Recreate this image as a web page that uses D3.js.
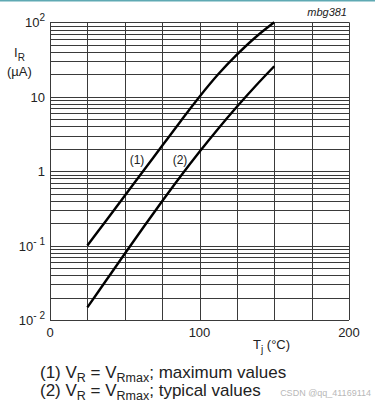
<!DOCTYPE html>
<html>
<head>
<meta charset="utf-8">
<script src="https://cdn.jsdelivr.net/npm/d3@7"></script>
<style>
  body { margin: 0; background: #fff; }
  text { font-family: "Liberation Sans", Arial, sans-serif; fill: #222; }
</style>
</head>
<body>
<script>
// temperature points (deg C) and reverse current (uA)
var temps = [25, 37.5, 50, 62.5, 75, 87.5, 100, 112.5, 125, 137.5, 150];
var maxValues = [0.1, 0.216, 0.468, 1.01, 2.19, 4.73, 10, 20, 36.7, 63, 100];
var typValues = [0.0148, 0.0339, 0.0776, 0.176, 0.394, 0.861, 1.82, 3.72, 7.33, 13.96, 25.7];
var xTicks = [0, 100, 200];
var yTicks = [100, 10, 1, 0.1, 0.01];
var yTickBase = ["10", "10", "1", "10", "10"];
var yTickSup = ["2", "", "", "- 1", "- 2"];

var width = 375, height = 403;
var svg = d3.select("body").append("svg")
    .attr("width", width).attr("height", height);

// thin teal strip on the top edge
svg.append("rect").attr("x", 0).attr("y", 0)
    .attr("width", width).attr("height", 1.5).attr("fill", "#5fa9b3");

var x = d3.scaleLinear().domain([0, 200]).range([50, 349]);
var y = d3.scaleLog().domain([0.01, 100]).range([320, 22.3]);

// log grid: 1..9 in every decade
var hLines = [];
for (var k = -2; k <= 1; k++) {
    for (var m = 1; m <= 9; m++) hLines.push(m * Math.pow(10, k));
}
hLines.push(100);
var vLines = d3.range(0, 201, 25);

var grid = svg.append("g").attr("stroke", "#3a3a3a").attr("stroke-width", 1);
grid.selectAll(".h").data(hLines).enter().append("line")
    .attr("x1", x(0)).attr("x2", x(200))
    .attr("y1", function (d) { return Math.round(y(d)) + 0.5; })
    .attr("y2", function (d) { return Math.round(y(d)) + 0.5; });
grid.selectAll(".v").data(vLines).enter().append("line")
    .attr("y1", y(100)).attr("y2", y(0.01))
    .attr("x1", function (d) { return Math.round(x(d)) + 0.5; })
    .attr("x2", function (d) { return Math.round(x(d)) + 0.5; });

// curves
var line = d3.line()
    .x(function (d) { return x(d[0]); })
    .y(function (d) { return y(d[1]); })
    .curve(d3.curveCatmullRom);

[maxValues, typValues].forEach(function (vals) {
    svg.append("path")
        .datum(d3.zip(temps, vals))
        .attr("d", line)
        .attr("fill", "none")
        .attr("stroke", "#000")
        .attr("stroke-width", 2.4);
});

svg.append("text").attr("x", 137).attr("y", 164).attr("text-anchor", "middle")
    .style("font-size", "12px").text("(1)");
svg.append("text").attr("x", 180).attr("y", 164).attr("text-anchor", "middle")
    .style("font-size", "12px").text("(2)");

// y tick labels
var yl = svg.selectAll(".yl").data(yTicks).enter().append("text")
    .attr("x", 45)
    .attr("y", function (d) { return y(d) + 5; })
    .attr("text-anchor", "end")
    .style("font-size", "13px");
yl.append("tspan").text(function (d, i) { return yTickBase[i]; });
yl.append("tspan").attr("dy", -6).style("font-size", "10px")
    .text(function (d, i) { return yTickSup[i]; });

// x tick labels
svg.selectAll(".xl").data(xTicks).enter().append("text")
    .attr("x", function (d) { return x(d); })
    .attr("y", 337)
    .attr("text-anchor", "middle")
    .style("font-size", "13px")
    .text(function (d) { return d; });

// axis titles
var yt = svg.append("text").attr("x", 14).attr("y", 57).style("font-size", "13px");
yt.append("tspan").text("I");
yt.append("tspan").attr("dy", 4).style("font-size", "10px").text("R");
svg.append("text").attr("x", 7).attr("y", 76).style("font-size", "13px").text("(µA)");

var xt = svg.append("text").attr("x", 253).attr("y", 349).style("font-size", "13px");
xt.append("tspan").text("T");
xt.append("tspan").attr("dy", 4).style("font-size", "10px").text("j");
xt.append("tspan").attr("dy", -4).text(" (°C)");

svg.append("text").attr("x", 347).attr("y", 16).attr("text-anchor", "end")
    .style("font-size", "11px").style("font-style", "italic").text("mbg381");

// footnotes
var notes = [["(1) V", "R", " = V", "Rmax", "; maximum values"],
             ["(2) V", "R", " = V", "Rmax", "; typical values"]];
notes.forEach(function (n, i) {
    var t = svg.append("text").attr("x", 40).attr("y", 378 + i * 18)
        .style("font-size", "17px");
    t.append("tspan").text(n[0]);
    t.append("tspan").attr("dy", 4).style("font-size", "12.5px").text(n[1]);
    t.append("tspan").attr("dy", -4).text(n[2]);
    t.append("tspan").attr("dy", 4).style("font-size", "12.5px").text(n[3]);
    t.append("tspan").attr("dy", -4).text(n[4]);
});

svg.append("text").attr("x", 371).attr("y", 396).attr("text-anchor", "end")
    .style("font-size", "9px").style("fill", "#b8b8b8").text("CSDN @qq_41169114");
</script>
</body>
</html>
